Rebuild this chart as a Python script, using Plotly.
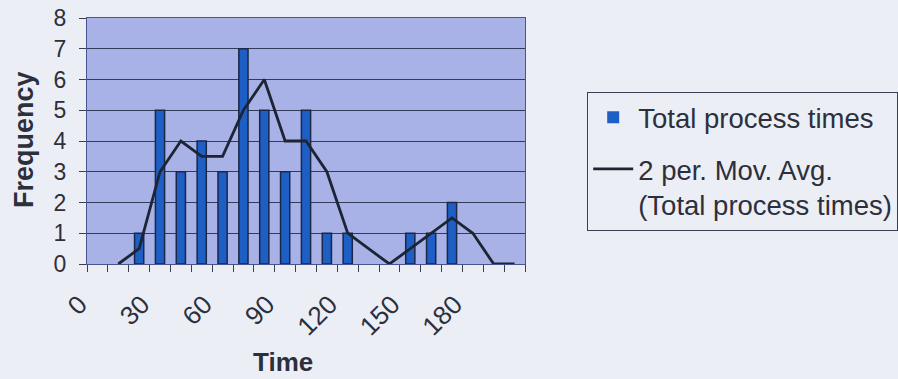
import plotly.graph_objects as go

# Histogram bins (minutes) and counts
time_bins = [0, 10, 20, 30, 40, 50, 60, 70, 80, 90, 100,
             110, 120, 130, 140, 150, 160, 170, 180, 190, 200]
frequency = [0, 0, 1, 5, 3, 4, 3, 7, 5, 3, 5,
             1, 1, 0, 0, 1, 1, 2, 0, 0, 0]

# 2-period moving average, starting at the second bin
mov_avg_bins = [10, 20, 30, 40, 50, 60, 70, 80, 90, 100,
                110, 120, 130, 140, 150, 160, 170, 180, 190, 200]
mov_avg = [0, 0.5, 3, 4, 3.5, 3.5, 5, 6, 4, 4,
           3, 1, 0.5, 0, 0.5, 1, 1.5, 1, 0, 0]

x_tick_vals = [0, 30, 60, 90, 120, 150, 180]
x_tick_text = ["0", "30", "60", "90", "120", "150", "180"]
y_tick_vals = [0, 1, 2, 3, 4, 5, 6, 7, 8]

FONT = "Liberation Sans, Arial, sans-serif"
TEXT = "#2b303c"
PAGE_BG = "#eceef6"
PLOT_BG = "#a8b2e6"
GRID = "#333a5a"

# empty bins get no outline so nothing shows on the baseline
bar_outline = [1.5 if v > 0 else 0 for v in frequency]

fig = go.Figure()
fig.add_trace(go.Bar(
    x=time_bins, y=frequency, width=4.4,
    name="Total process times",
    marker=dict(color="#1e5fc6", line=dict(color="#1a2748", width=bar_outline)),
    legendgroup="a",
))
fig.add_trace(go.Scatter(
    x=mov_avg_bins, y=mov_avg, mode="lines",
    name="2 per. Mov. Avg.<br>(Total process times)",
    line=dict(color="#1d2433", width=2.8),
    legendgroup="b",
))

boundaries = [b - 5 for b in time_bins] + [time_bins[-1] + 5]

fig.update_layout(
    width=898, height=379,
    paper_bgcolor=PAGE_BG, plot_bgcolor=PLOT_BG,
    margin=dict(l=87, r=373, t=18, b=115, autoexpand=False),
    font=dict(family=FONT, color=TEXT, size=21),
    showlegend=True,
    legend=dict(
        x=1.142, y=0.70, xanchor="left", yanchor="top",
        bgcolor=PAGE_BG, bordercolor="#3a4050", borderwidth=1,
        font=dict(size=27.5, color=TEXT),
        traceorder="grouped", tracegroupgap=13,
        itemwidth=40, valign="top",
    ),
    xaxis=dict(
        range=[-5, 205], tickmode="array",
        tickvals=x_tick_vals, ticktext=x_tick_text,
        tickangle=-45, ticks="", showgrid=False, zeroline=False,
        tickfont=dict(size=26, color=TEXT),
        ticklabelstandoff=14, ticklabelshift=-18,
        showline=True, linecolor="#4a5590", linewidth=1, mirror=True,
        minor=dict(tickmode="array", tickvals=boundaries, ticks="outside",
                   ticklen=7, tickcolor="#3a4050", showgrid=False),
    ),
    yaxis=dict(
        range=[0, 8], tickmode="array", tickvals=y_tick_vals,
        ticks="outside", ticklen=7, tickcolor="#3a4050",
        showgrid=True, gridcolor=GRID, gridwidth=1, zeroline=False,
        tickfont=dict(size=23, color=TEXT), ticklabelstandoff=8,
        showline=True, linecolor="#4a5590", linewidth=1, mirror=True,
    ),
    annotations=[
        dict(text="<b>Time</b>", xref="paper", yref="paper",
             x=(283 - 87) / 438, y=-(362 - 264) / 246,
             xanchor="center", yanchor="middle", showarrow=False,
             font=dict(size=26, color=TEXT)),
        dict(text="<b>Frequency</b>", xref="paper", yref="paper",
             x=-(87 - 24) / 438, y=(264 - 140) / 246, textangle=-90,
             xanchor="center", yanchor="middle", showarrow=False,
             font=dict(size=27, color=TEXT)),
    ],
)

fig.write_html("out.html")
